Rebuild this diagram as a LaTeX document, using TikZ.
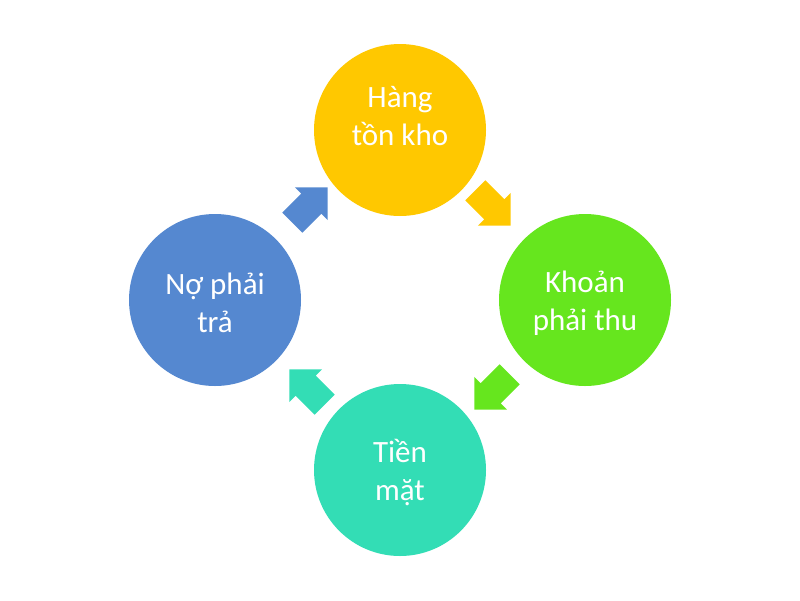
\documentclass[tikz,border=0pt]{standalone}
\usepackage{fontspec}
\setmainfont{Carlito}
\usetikzlibrary{shapes.arrows}
\definecolor{cyellow}{HTML}{FFC800}
\definecolor{cgreen}{HTML}{66E61E}
\definecolor{cteal}{HTML}{33DDB5}
\definecolor{cblue}{HTML}{5588D0}
\begin{document}
\begin{tikzpicture}[
    x=1pt, y=-1pt,
    stage/.style={circle, minimum size=172pt, inner sep=0pt},
    caption/.style={text=white, align=center, font=\fontsize{31}{38}\selectfont},
    flow/.style={single arrow, minimum height=50pt, inner xsep=0pt, inner ysep=14pt, single arrow head extend=9pt}
]
\useasboundingbox (0,0) rectangle (800,600);

% Stages
\node[stage, fill=cyellow] (inventory) at (400,130) {};
\node[stage, fill=cgreen] (receivable) at (585,300) {};
\node[stage, fill=cteal] (cash) at (400,470) {};
\node[stage, fill=cblue] (payable) at (215,300) {};

% Captions
\node[caption] at ([yshift=14pt]inventory.center) {Hàng\\tồn kho};
\node[caption] at ([yshift=-3pt]receivable.center) {Khoản\\phải thu};
\node[caption] at ([yshift=-3pt]cash.center) {Tiền\\mặt};
\node[caption] at ([yshift=-3pt]payable.center) {Nợ phải\\trả};

% Flow arrows
\node[flow, fill=cyellow, rotate=-45] (a1) at (488,203) {};
\node[flow, fill=cgreen, rotate=-135] (a2) at (497,387) {};
\node[flow, fill=cteal, rotate=135] (a3) at (312,392) {};
\node[flow, fill=cblue, rotate=45] (a4) at (305,210) {};

\end{tikzpicture}
\end{document}
